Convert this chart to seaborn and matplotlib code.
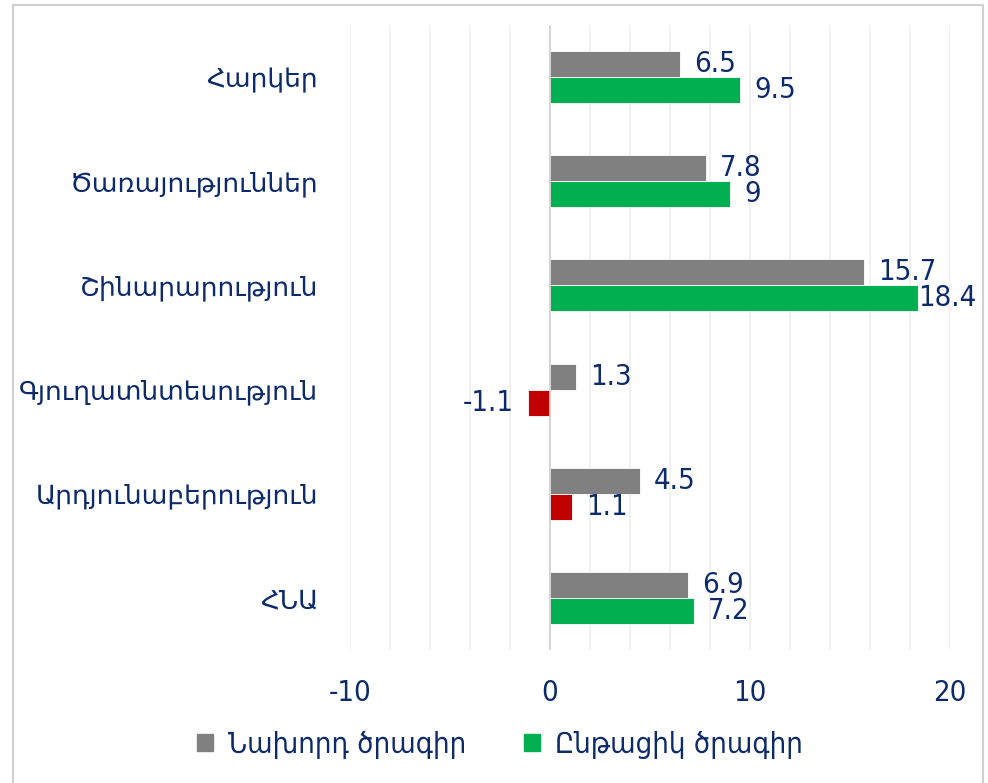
import matplotlib
matplotlib.use("Agg")
import matplotlib.pyplot as plt
import matplotlib.patches as mpatches
import seaborn as sns
import pandas as pd
import numpy as np

categories = ["Հարկեր", "Ծառայություններ", "Շինարարություն",
              "Գյուղատնտեսություն", "Արդյունաբերություն", "ՀՆԱ"]
series_names = ["Նախորդ ծրագիր", "Ընթացիկ ծրագիր"]
previous = [6.5, 7.8, 15.7, 1.3, 4.5, 6.9]
current = [9.5, 9, 18.4, -1.1, 1.1, 7.2]
current_highlight = [False, False, False, True, True, False]
x_ticks = [-10, 0, 10, 20]

GRAY = "#808080"
GREEN = "#00B050"
RED = "#C00000"
NAVY = "#0D2A6B"

sns.set_theme(style="white")
plt.rcParams["font.family"] = ["DejaVu Sans"]
plt.rcParams["font.stretch"] = "condensed"
plt.rcParams["axes.unicode_minus"] = False

df = pd.DataFrame({
    "category": categories * 2,
    "series": [series_names[0]] * len(categories) + [series_names[1]] * len(categories),
    "value": previous + current,
})

fig = plt.figure(figsize=(9.88, 7.83), dpi=100)
ax = fig.add_axes([350 / 988, 1 - 650 / 783, 600 / 988, 625 / 783])

sns.barplot(data=df, y="category", x="value", hue="series", orient="h",
            palette=[GRAY, GREEN], width=0.5, ax=ax, legend=False,
            saturation=1, order=categories, hue_order=series_names)

for patch, hl in zip(ax.containers[1], current_highlight):
    if hl:
        patch.set_facecolor(RED)
for cont in ax.containers:
    for p in cont:
        p.set_edgecolor("#FFFFFF")
        p.set_linewidth(0.6)

ax.set_xlim(-10, 20)
ax.set_ylim(5.5, -0.5)
ax.set_xticks(x_ticks)
ax.set_xticks(np.arange(-10, 21, 2), minor=True)
ax.grid(axis="x", which="minor", color="#EFEFEF", linewidth=1.2)
ax.grid(axis="x", which="major", color="#EFEFEF", linewidth=1.2)
ax.set_axisbelow(True)
ax.axvline(0, color="#D0D0D0", linewidth=1.2, zorder=1.5)
ax.tick_params(axis="x", which="both", length=0, pad=21, labelsize=21, labelcolor=NAVY)
ax.tick_params(axis="y", length=0, pad=23, labelcolor=NAVY)
for lab in ax.get_yticklabels():
    lab.set_fontsize(19)
    lab.set_fontstretch("normal")
ax.set_xlabel("")
ax.set_ylabel("")
for s in ax.spines.values():
    s.set_visible(False)

fig.canvas.draw()
renderer = fig.canvas.get_renderer()
texts = []
for cont in ax.containers:
    for p in cont:
        w = p.get_width()
        y = p.get_y() + p.get_height() / 2
        lab = f"{w:g}"
        if w >= 0:
            t = ax.annotate(lab, (w, y), xytext=(10, 0), textcoords="offset points",
                            ha="left", va="center", fontsize=21, color=NAVY,
                            annotation_clip=False)
        else:
            t = ax.annotate(lab, (w, y), xytext=(-10, 0), textcoords="offset points",
                            ha="right", va="center", fontsize=21, color=NAVY,
                            annotation_clip=False)
        texts.append(t)
fig.canvas.draw()
for t in texts:
    bb = t.get_window_extent(renderer)
    limit = 976
    if bb.x1 > limit:
        dx = (bb.x1 - limit) * 72 / fig.dpi
        ox, oy = t.xyann
        t.xyann = (ox - dx, oy)

handles = [mpatches.Patch(color=GRAY, label=series_names[0]),
           mpatches.Patch(color=GREEN, label=series_names[1])]
leg = fig.legend(handles=handles, loc="center", bbox_to_anchor=(500 / 988, 1 - 745 / 783),
                 ncol=2, frameon=False, handlelength=0.55, handleheight=0.55,
                 handletextpad=0.5, columnspacing=2.0,
                 prop={"family": ["DejaVu Sans"], "size": 21, "stretch": "condensed"})
for t in leg.get_texts():
    t.set_color(NAVY)

fig.patches.append(mpatches.Rectangle((13 / 988, -0.01), 970 / 988, 1 - 5 / 783 + 0.01,
                                      transform=fig.transFigure, fill=False,
                                      edgecolor="#D0D0D0", linewidth=1.5))

fig.savefig("out.png", dpi=100)
